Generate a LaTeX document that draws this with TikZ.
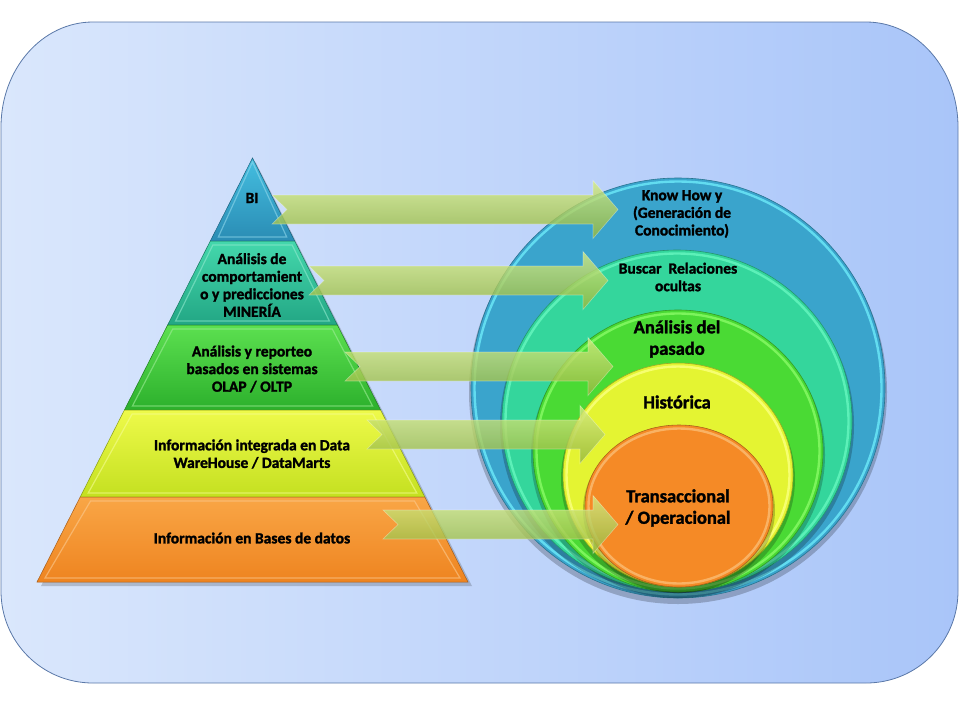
\documentclass[tikz,border=0pt]{standalone}
\usepackage{fontspec}
\setmainfont{Carlito}[BoldFeatures={FakeBold=1.6}]
\usetikzlibrary{calc}

\definecolor{bgL}{HTML}{DAE7FC}
\definecolor{bgR}{HTML}{A9C5F9}
\definecolor{bgLine}{HTML}{5A78A8}
% pyramid slices
\definecolor{biTop}{HTML}{44BEE0}  \definecolor{biBot}{HTML}{2A8CB4}
\definecolor{miTop}{HTML}{44D8AC}  \definecolor{miBot}{HTML}{22A684}
\definecolor{olTop}{HTML}{5CE050}  \definecolor{olBot}{HTML}{2CB02C}
\definecolor{dwTop}{HTML}{EEFA4A}  \definecolor{dwBot}{HTML}{C4E020}
\definecolor{dbTop}{HTML}{F9A646}  \definecolor{dbBot}{HTML}{EE8420}
% rings
\definecolor{rBlue}{HTML}{3AA4CC}   \definecolor{rBlueRim}{HTML}{62DCF0}
\definecolor{rMint}{HTML}{34D69C}   \definecolor{rMintRim}{HTML}{5CF0B8}
\definecolor{rGreen}{HTML}{4ADA34}  \definecolor{rGreenRim}{HTML}{7CF45C}
\definecolor{rYellow}{HTML}{E4F432} \definecolor{rYellowRim}{HTML}{F6FE70}
\definecolor{rOrange}{HTML}{F58A26} \definecolor{rOrangeRim}{HTML}{F9B264}
% arrows
\definecolor{arTop}{HTML}{D6EC84}
\definecolor{arBot}{HTML}{94B63C}

\begin{document}
\begin{tikzpicture}[x=1pt,y=-1pt]
    % -----------------------------
    % Parameters (pixels of the slide)
    % -----------------------------
    \def\apexX{252.5}     % pyramid apex x
    \def\apexY{158}       % pyramid apex y
    \def\baseY{582}       % pyramid base y
    \def\halfBase{215.5}  % half width of the base
    \def\sw{14.5}         % half width of arrow shaft
    \def\hw{29}           % half width of arrow head
    \def\hl{25}           % length of arrow head
    \def\nd{15}           % depth of the notch

    % -----------------------------
    % Styles and helpers
    % -----------------------------
    \tikzset{
      lbl/.style={font=\bfseries\fontsize{15.5}{17.6}\selectfont, align=center, inner sep=0pt},
      biglbl/.style={font=\bfseries\fontsize{18.5}{21.5}\selectfont, align=center, inner sep=0pt},
      arrowfill/.style={top color=arTop, bottom color=arBot, fill opacity=0.8, draw=white, draw opacity=0.35, line width=0.6pt},
      ringshadow/.style={fill=black, fill opacity=0.22}
    }

    % one slice of the pyramid between two heights
    \newcommand{\layer}[4]{%
      \pgfmathsetmacro{\wa}{(#1-\apexY)/(\baseY-\apexY)*\halfBase}
      \pgfmathsetmacro{\wb}{(#2-\apexY)/(\baseY-\apexY)*\halfBase}
      \shade[top color=#3, bottom color=#4, draw=#4!70!black, line width=0.5pt]
        (\apexX-\wa,#1) -- (\apexX+\wa,#1) -- (\apexX+\wb,#2) -- (\apexX-\wb,#2) -- cycle;
      \draw[#3!60!white, line width=1.2pt, opacity=0.6]
        (\apexX-\wa*0.94,#1+4) -- (\apexX+\wa*0.94,#1+4) -- (\apexX+\wb-8,#2-4) -- (\apexX-\wb+8,#2-4) -- cycle;
    }

    % notched block arrow from a start point to a tip
    \newcommand{\blockarrow}[2]{%
      \shade[arrowfill] ($(#1)+(0,-\sw)$) -- ($(#2)+(-\hl,-\sw)$) -- ($(#2)+(-\hl,-\hw)$)
        -- (#2) -- ($(#2)+(-\hl,\hw)$) -- ($(#2)+(-\hl,\sw)$) -- ($(#1)+(0,\sw)$)
        -- ($(#1)+(\nd,0)$) -- cycle;
    }

    % one ring of the target, with a soft shadow
    \newcommand{\ring}[6]{%
      \fill[ringshadow] (#1,#2+4) ellipse [x radius=#3+2, y radius=#4+2];
      \fill[#5, draw=#5!70!black, line width=0.6pt] (#1,#2) ellipse [x radius=#3, y radius=#4];
      \draw[#6, line width=2.4pt] (#1,#2) ellipse [x radius=#3-3.5, y radius=#4-3.5];
    }

    \useasboundingbox (0,0) rectangle (960,720);

    % -----------------------------
    % Background panel
    % -----------------------------
    \shade[left color=bgL, right color=bgR]
      (1,127) .. controls (1,69) and (42,22) .. (93,22) -- (866,22)
      .. controls (917,22) and (958,69) .. (958,127) -- (958,591)
      .. controls (958,642) and (917,683) .. (866,683) -- (93,683)
      .. controls (42,683) and (1,642) .. (1,591) -- cycle;
    \draw[bgLine, line width=0.8pt]
      (1,127) .. controls (1,69) and (42,22) .. (93,22) -- (866,22)
      .. controls (917,22) and (958,69) .. (958,127) -- (958,591)
      .. controls (958,642) and (917,683) .. (866,683) -- (93,683)
      .. controls (42,683) and (1,642) .. (1,591) -- cycle;

    % -----------------------------
    % Pyramid
    % -----------------------------
    \fill[black, opacity=0.18] (\apexX+3,\apexY+4) -- (\apexX+\halfBase+4,\baseY+4) -- (\apexX-\halfBase+4,\baseY+4) -- cycle;
    \layer{\apexY}{241}{biTop}{biBot}
    \layer{241}{325}{miTop}{miBot}
    \layer{325}{410}{olTop}{olBot}
    \layer{410}{497}{dwTop}{dwBot}
    \layer{497}{\baseY}{dbTop}{dbBot}

    \node[lbl] (bi) at (252,198) {BI};
    \node[lbl] (mi) at (252,285) {Análisis de\\comportamient\\o y predicciones\\MINERÍA};
    \node[lbl] (ol) at (252,369) {Análisis y reporteo\\basados en sistemas\\OLAP / OLTP};
    \node[lbl] (dw) at (252,454) {Información integrada en Data\\WareHouse / DataMarts};
    \node[lbl] (db) at (252,538) {Información en Bases de datos};

    % -----------------------------
    % Target rings (outer first)
    % -----------------------------
    \ring{678}{388}{207}{210}{rBlue}{rBlueRim}
    \ring{677}{421}{175}{171}{rMint}{rMintRim}
    \ring{678}{451}{145}{141}{rGreen}{rGreenRim}
    \ring{678}{475}{115}{112}{rYellow}{rYellowRim}
    \ring{679}{506}{94}{81}{rOrange}{rOrangeRim}

    \node[lbl] (kh) at (682,214) {Know How y\\(Generación de\\Conocimiento)};
    \node[lbl] (br) at (678,277) {Buscar~~Relaciones\\ocultas};
    \node[biglbl] (ap) at (677,339) {Análisis del\\pasado};
    \node[biglbl] (hi) at (677,402) {Histórica};
    \node[biglbl] (tr) at (678,508) {Transaccional\\/ Operacional};

    % -----------------------------
    % Arrows from each layer to its ring
    % -----------------------------
    \coordinate (s1) at (272,209.5);  \coordinate (t1) at (618,209.5);
    \coordinate (s2) at (309,280.5);  \coordinate (t2) at (608,280.5);
    \coordinate (s3) at (345,366.5);  \coordinate (t3) at (613,366.5);
    \coordinate (s4) at (367,434.5);  \coordinate (t4) at (605,434.5);
    \coordinate (s5) at (383,524.5);  \coordinate (t5) at (618,524.5);
    \foreach \i in {1,...,5}{\blockarrow{s\i}{t\i}}

\end{tikzpicture}
\end{document}
